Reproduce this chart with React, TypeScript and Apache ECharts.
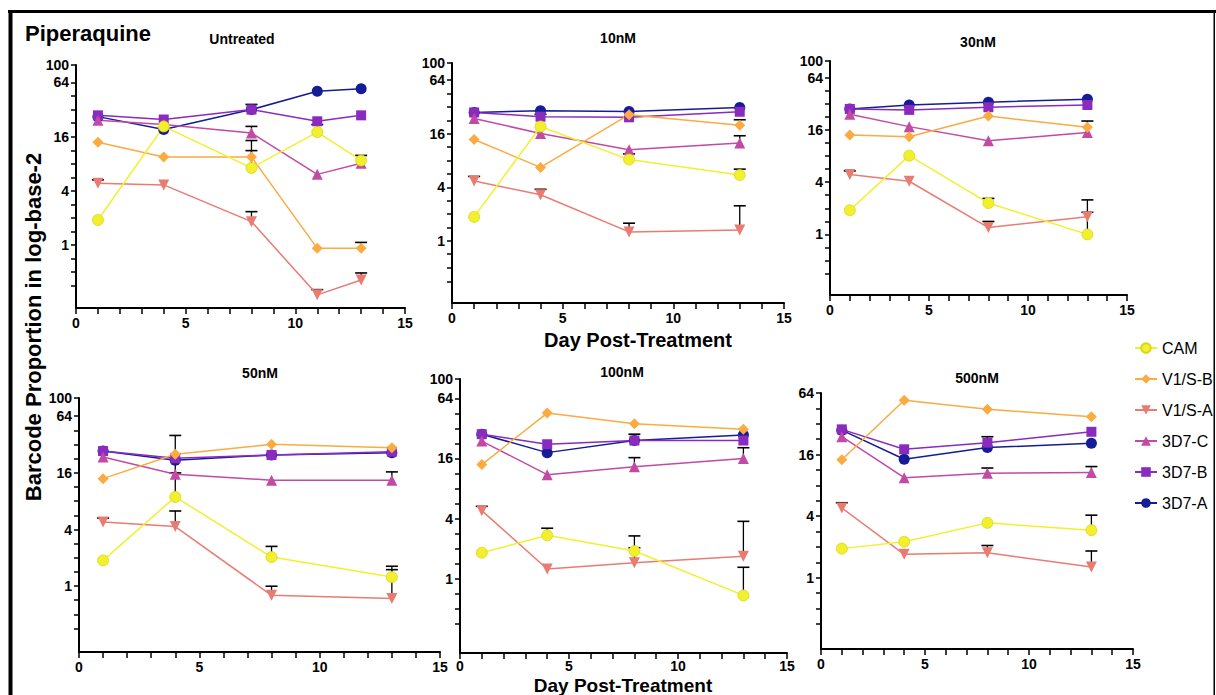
import React, { useEffect, useRef } from 'react';
import * as echarts from 'echarts';

// ---------------- data ----------------
const STRAINS = ['CAM', 'V1/S-B', 'V1/S-A', '3D7-C', '3D7-B', '3D7-A'];
const PANELS = ['Untreated', '10nM', '30nM', '50nM', '100nM', '500nM'];
const DAYS_UNTREATED = [1, 4, 8, 11, 13];
const DAYS_TREATED = [1, 4, 8, 13];
const X_TICK_LABELS = [0, 5, 10, 15];
const Y_TICKS = [0.35, 0.5, 0.71, 1, 1.41, 2, 2.83, 4, 5.66, 8, 11.3, 16, 22.6, 32, 45.3, 64, 100];
const Y_LABELS = [1, 4, 16, 64, 100];

// one row per panel (Untreated, 10, 30, 50, 100, 500 nM)
const CAM = [
  [1.9, 20.8, 7.2, 18, 8.7],
  [1.86, 19.3, 8.2, 5.5],
  [1.9, 8.1, 2.3, 1.0],
  [1.88, 8.9, 2.04, 1.25],
  [1.82, 2.72, 1.89, 0.68],
  [1.92, 2.24, 3.43, 2.91],
];
const V1S_B = [
  [13.9, 9.5, 9.5, 0.92, 0.92],
  [13.8, 6.7, 26.2, 20],
  [14, 13.4, 23.2, 17.2],
  [13.9, 25.2, 32.2, 29.6],
  [13.9, 45.6, 35.6, 31.4],
  [14.2, 54.4, 44.4, 37.5],
];
const V1S_A = [
  [4.87, 4.66, 1.82, 0.28, 0.41],
  [4.7, 3.3, 1.26, 1.32],
  [4.9, 4.1, 1.2, 1.6],
  [4.8, 4.3, 0.8, 0.74],
  [4.8, 1.25, 1.44, 1.68],
  [4.8, 1.69, 1.75, 1.27],
];
const D7_C = [
  [24.3, 21.8, 17.6, 6.1, 8.1],
  [23.8, 16.1, 10.6, 12.6],
  [24.3, 17.5, 12, 15],
  [23.6, 15.5, 13.4, 13.4],
  [23.9, 11, 13.2, 16],
  [23.9, 9.5, 10.5, 10.7],
];
const D7_B = [
  [27.6, 24.8, 32, 23.7, 27.6],
  [27.8, 24.9, 24.5, 28.3],
  [28, 27.3, 29.3, 31.1],
  [27.3, 22.9, 24.8, 26.9],
  [28, 22.2, 24.2, 24.2],
  [28.2, 18, 20.9, 26.7],
];
const D7_A = [
  [26.7, 19.2, 32, 51, 54.5],
  [27.8, 29, 28.5, 31.6],
  [28, 31.1, 33.5, 36.3],
  [27.3, 21.8, 24.8, 26.2],
  [28, 18.3, 24.2, 27.5],
  [27.7, 14.4, 18.7, 20.6],
];

// upper end of error bars (null = none drawn)
const CAM_UP = [
  [null, null, 14.5, 21.8, 9.9],
  [null, null, 9.5, 6.4],
  [null, null, 2.6, 2.5],
  [null, 40, 2.65, 1.63],
  [null, 3.2, 2.68, 1.3],
  [null, null, null, 4.08],
];
const V1S_B_UP = [
  [null, null, 11.2, null, 1.07],
  [null, null, null, 23],
  [null, null, null, 20.3],
  [null, null, null, null],
  [null, null, null, null],
  [null, null, null, null],
];
const V1S_A_UP = [
  [5.3, null, 2.35, 0.32, 0.49],
  [5.3, 3.8, 1.58, 2.48],
  [5.4, null, 1.41, 1.8],
  [5.3, 6.3, 1.0, 1.5],
  [5.3, null, 2.04, 3.75],
  [5.4, null, 2.06, 1.82],
];
const D7_C_UP = [
  [null, null, 20.8, null, null],
  [null, null, null, 15.2],
  [null, null, null, null],
  [null, 16, null, 16.4],
  [null, null, 16.3, 20.5],
  [null, null, 11.8, 12.2],
];
const D7_B_UP = [
  [null, null, 36.5, null, null],
  [null, 26.5, null, null],
  [null, null, null, null],
  [null, null, null, null],
  [null, null, 28, null],
  [null, null, 23.9, null],
];
const D7_A_UP = [
  [null, null, null, null, null],
  [null, null, null, null],
  [null, null, null, null],
  [null, null, null, null],
  [null, null, null, null],
  [null, null, null, null],
];

const Y_MIN = [0.2, 0.2, 0.2, 0.2, 0.18, 0.2];
const Y_MAX = [100, 100, 100, 100, 100, 64];

// ---------------- styles / layout ----------------
const VALUES = [CAM, V1S_B, V1S_A, D7_C, D7_B, D7_A];
const UPPERS = [CAM_UP, V1S_B_UP, V1S_A_UP, D7_C_UP, D7_B_UP, D7_A_UP];
const COLORS = ['#f2f02c', '#fbab3f', '#e87c72', '#c24aa5', '#8a2bbf', '#141c96'];
const SYMBOLS = ['circle', 'diamond', 'triangle', 'triangle', 'rect', 'circle'];
const SYMBOL_ROT = [0, 0, 180, 0, 0, 0];
const SYMBOL_SIZE = [11, 11, 11, 11, 10, 11];

const GRIDS = [
  { left: 76, top: 65, width: 329, height: 243 },
  { left: 452, top: 63, width: 332, height: 240 },
  { left: 830, top: 61, width: 297, height: 234 },
  { left: 79, top: 398, width: 361, height: 254 },
  { left: 460, top: 379, width: 327, height: 274 },
  { left: 821, top: 393, width: 312, height: 256 },
];
const X_LABEL_MARGIN = [8, 8, 8, 8, 6, 8];
const TITLE_POS = [
  [242, 39], [618, 38], [978, 42], [260, 373], [622, 372], [977, 378],
];

const FONT = 'Liberation Sans, Arial, Helvetica, sans-serif';

function buildOption() {
  const grid: any[] = [];
  const xAxis: any[] = [];
  const yAxis: any[] = [];
  const series: any[] = [];

  PANELS.forEach((_, p) => {
    grid.push({ ...GRIDS[p], containLabel: false });
    xAxis.push({
      type: 'value',
      gridIndex: p,
      min: X_TICK_LABELS[0],
      max: X_TICK_LABELS[X_TICK_LABELS.length - 1],
      interval: 5,
      axisLine: { show: true, onZero: false, lineStyle: { color: '#000', width: 2 } },
      axisTick: { show: true, length: 6, lineStyle: { color: '#000', width: 1.5 } },
      minorTick: { show: true, splitNumber: 5, length: 6, lineStyle: { color: '#000', width: 1.5 } },
      splitLine: { show: false },
      axisLabel: {
        margin: X_LABEL_MARGIN[p], color: '#000', fontWeight: 'bold', fontSize: 14, fontFamily: FONT,
      },
    });
    const ticks = Y_TICKS.filter((t) => t <= Y_MAX[p]);
    const labels = Y_LABELS.filter((t) => t <= Y_MAX[p]);
    yAxis.push({
      type: 'log',
      logBase: 2,
      gridIndex: p,
      min: Y_MIN[p],
      max: Y_MAX[p],
      axisLine: { show: true, onZero: false, lineStyle: { color: '#000', width: 2 } },
      axisTick: { show: true, length: 5, customValues: ticks, lineStyle: { color: '#000', width: 1.5 } },
      splitLine: { show: false },
      minorTick: { show: false },
      axisLabel: {
        customValues: labels,
        margin: 7, color: '#000', fontWeight: 'bold', fontSize: 14, fontFamily: FONT,
        formatter: (v: number) => String(Math.round(v)),
      },
    });

    const days = p === 0 ? DAYS_UNTREATED : DAYS_TREATED;

    // error bars (behind)
    const errData: any[] = [];
    STRAINS.forEach((_, s) => {
      days.forEach((d, i) => {
        const up = UPPERS[s][p][i];
        if (up != null) errData.push([d, VALUES[s][p][i], up]);
      });
    });
    series.push({
      type: 'custom',
      coordinateSystem: 'cartesian2d',
      xAxisIndex: p,
      yAxisIndex: p,
      z: 1,
      silent: true,
      encode: { x: 0, y: [1, 2] },
      data: errData,
      renderItem: (params: any, api: any) => {
        const x = api.value(0);
        const p0 = api.coord([x, api.value(1)]);
        const p1 = api.coord([x, api.value(2)]);
        return {
          type: 'group',
          children: [
            { type: 'line', shape: { x1: p0[0], y1: p0[1], x2: p1[0], y2: p1[1] }, style: { stroke: '#000', lineWidth: 1.3 } },
            { type: 'line', shape: { x1: p1[0] - 6, y1: p1[1], x2: p1[0] + 6, y2: p1[1] }, style: { stroke: '#000', lineWidth: 1.6 } },
          ],
        };
      },
    });

    // lines, reverse order so CAM is on top
    for (let s = STRAINS.length - 1; s >= 0; s--) {
      series.push({
        type: 'line',
        name: STRAINS[s],
        xAxisIndex: p,
        yAxisIndex: p,
        z: 2,
        data: days.map((d, i) => [d, VALUES[s][p][i]]),
        symbol: SYMBOLS[s],
        symbolRotate: SYMBOL_ROT[s],
        symbolSize: SYMBOL_SIZE[s],
        showAllSymbol: true,
        itemStyle: { color: COLORS[s], borderColor: s === 0 ? '#d8d61e' : COLORS[s], borderWidth: s === 0 ? 0.8 : 0 },
        lineStyle: { color: COLORS[s], width: 1.5 },
        emphasis: { disabled: true },
      });
    }
  });

  const textEl = (text: string, x: number, y: number, font: string, align = 'center', rotation = 0) => ({
    type: 'text',
    x,
    y,
    rotation,
    silent: true,
    style: { text, font, fill: '#000', textAlign: align, textVerticalAlign: 'middle' },
  });

  const graphic: any[] = [
    { type: 'rect', silent: true, shape: { x: 8, y: 10, width: 1208, height: 3 }, style: { fill: '#000' } },
    { type: 'rect', silent: true, shape: { x: 8.5, y: 10, width: 4, height: 685 }, style: { fill: '#000' } },
    { type: 'rect', silent: true, shape: { x: 1213.5, y: 10, width: 1.5, height: 685 }, style: { fill: '#000' } },
    textEl('Piperaquine', 25, 33, `bold 22px ${FONT}`, 'left'),
    textEl('Day Post-Treatment', 638, 340, `bold 20px ${FONT}`),
    textEl('Day Post-Treatment', 623, 685, `bold 19px ${FONT}`),
    textEl('Barcode Proportion in log-base-2', 33, 327, `bold 22px ${FONT}`, 'center', Math.PI / 2),
  ];
  PANELS.forEach((name, p) => {
    graphic.push(textEl(name, TITLE_POS[p][0], TITLE_POS[p][1], `bold 14px ${FONT}`));
  });

  return {
    animation: false,
    backgroundColor: '#fff',
    grid,
    xAxis,
    yAxis,
    series,
    legend: {
      data: STRAINS,
      orient: 'vertical',
      left: 1129,
      top: 335,
      itemWidth: 22,
      itemHeight: 12,
      itemGap: 15,
      selectedMode: false,
      textStyle: { fontSize: 16, color: '#000', fontFamily: FONT, lineHeight: 16 },
    },
    graphic,
  };
}

export default function App() {
  const ref = useRef<HTMLDivElement>(null);
  useEffect(() => {
    if (!ref.current) return;
    const chart = echarts.init(ref.current, undefined, { renderer: 'svg' });
    chart.setOption(buildOption());
    return () => chart.dispose();
  }, []);
  return (
    <div
      ref={ref}
      style={{ position: 'fixed', left: 0, top: 0, width: 1216, height: 695, background: '#fff' }}
    />
  );
}
